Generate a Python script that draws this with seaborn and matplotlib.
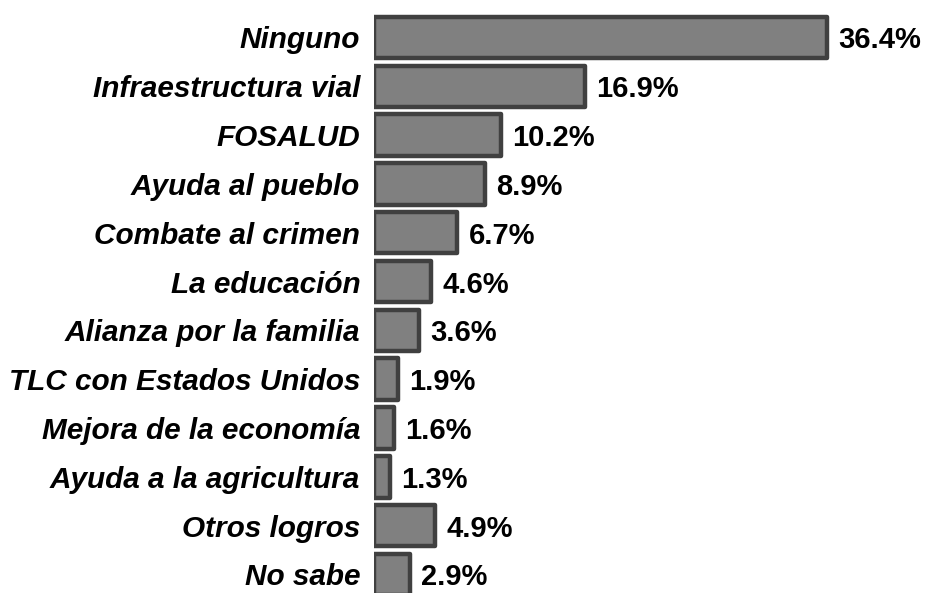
import matplotlib
matplotlib.use("Agg")
import matplotlib.pyplot as plt
import seaborn as sns

# datos
categorias = ["Ninguno", "Infraestructura vial", "FOSALUD", "Ayuda al pueblo",
              "Combate al crimen", "La educación", "Alianza por la familia",
              "TLC con Estados Unidos", "Mejora de la economía",
              "Ayuda a la agricultura", "Otros logros", "No sabe"]
porcentajes = [36.4, 16.9, 10.2, 8.9, 6.7, 4.6, 3.6, 1.9, 1.6, 1.3, 4.9, 2.9]
etiquetas = ["%.1f%%" % v for v in porcentajes]

sns.set_style("white")
plt.rcParams['font.family'] = ['Liberation Sans', 'DejaVu Sans']

fig = plt.figure(figsize=(9.27, 5.93), dpi=100)
ax = fig.add_axes([0.4035, 0.0, 1 - 0.4035, 1.0])

sns.barplot(x=porcentajes, y=categorias, orient="h", color="#808080",
            saturation=1, edgecolor="#404040", linewidth=3.2, width=0.85, ax=ax)
for p in ax.patches:
    p.set_joinstyle("round")

textos = ax.bar_label(ax.containers[0], labels=etiquetas, padding=8,
                      fontsize=21, fontweight="bold", color="black")
for t in textos:
    t.set_va("center_baseline")

ax.set_xlim(0, 44.4)
ax.set_ylim(11.38, -0.768)
ax.set_xticks([])
ax.set_xlabel("")
ax.set_ylabel("")
ax.tick_params(axis="y", length=0, pad=10)
for t in ax.get_yticklabels():
    t.set_fontsize(21.4)
    t.set_fontweight("bold")
    t.set_fontstyle("italic")
    t.set_color("black")
sns.despine(ax=ax, left=True, bottom=True)

fig.savefig("out.png", dpi=100)
